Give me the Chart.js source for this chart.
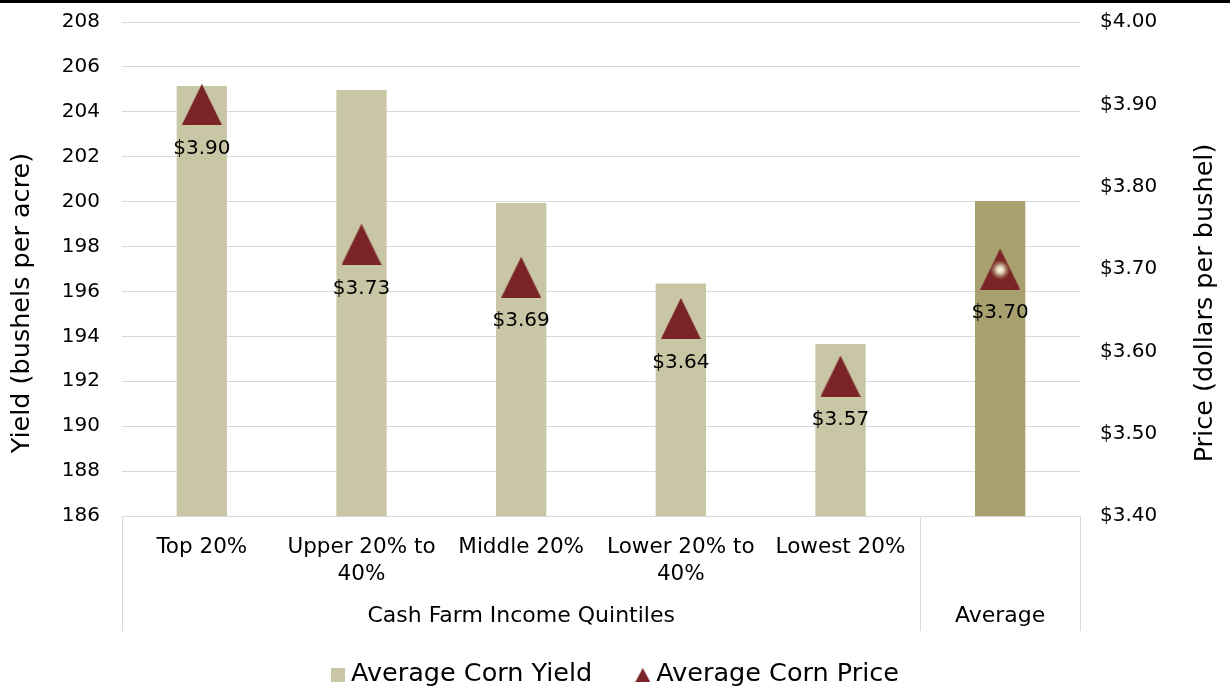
<!DOCTYPE html>
<html>
<head>
<meta charset="utf-8">
<script src="https://cdn.jsdelivr.net/npm/chart.js@4/dist/chart.umd.min.js"></script>
<style>
  html, body { margin: 0; padding: 0; background: #fff; }
  #wrap { position: relative; width: 1230px; height: 687px; }
</style>
</head>
<body>
<div id="wrap"><canvas id="myChart"></canvas></div>
<script>
// data
const categories = [['Top 20%'], ['Upper 20% to', '40%'], ['Middle 20%'], ['Lower 20% to', '40%'], ['Lowest 20%'], ['Average']];
const groups = ['Cash Farm Income Quintiles', 'Average'];
const groupSpans = [5, 1];
const cornYield = [205.15, 204.97, 199.94, 196.35, 193.66, 200.03];
const cornPrice = [3.90, 3.73, 3.69, 3.64, 3.57, 3.70];
const yieldTicks = [186, 208, 2];
const priceTicks = [3.40, 4.00, 0.10];

(() => {
  'use strict';
  const FONT = "'DejaVu Sans', 'Liberation Sans', Arial, sans-serif";
  const barLight = '#c9c6a6';
  const barDark = '#a8a06e';
  const red = '#7b2427';
  const gridCol = '#d9d9d9';

  // triangle images used as point styles
  const makeTriangle = (w, h, glow) => {
    const c = document.createElement('canvas');
    c.width = w; c.height = h;
    const g = c.getContext('2d');
    g.fillStyle = red;
    g.beginPath();
    g.moveTo(w / 2, 0);
    g.lineTo(w, h);
    g.lineTo(0, h);
    g.closePath();
    g.fill();
    if (glow) {
      const cx = w / 2, cy = h * 0.52;
      const rg = g.createRadialGradient(cx, cy, 0, cx, cy, 10);
      rg.addColorStop(0, 'rgba(255,255,250,1)');
      rg.addColorStop(0.35, 'rgba(235,230,200,0.9)');
      rg.addColorStop(1, 'rgba(170,150,110,0)');
      g.fillStyle = rg;
      g.beginPath();
      g.arc(cx, cy, 10, 0, Math.PI * 2);
      g.fill();
    }
    return c;
  };
  const tri = makeTriangle(40, 41, false);
  const triGlow = makeTriangle(40, 41, true);
  const triSmall = makeTriangle(15, 14, false);

  const isGroupName = (i) => groups.includes(categories[i][0]);

  const extras = {
    id: 'extras',
    beforeDraw(chart) {
      const c = chart.ctx;
      c.save();
      c.fillStyle = '#000';
      c.fillRect(0, 0, chart.width, 3);
      c.restore();
    },
    afterDraw(chart) {
      const c = chart.ctx;
      const area = chart.chartArea;
      const x = chart.scales.x;
      c.save();

      // price labels under triangles
      const meta = chart.getDatasetMeta(1);
      c.fillStyle = '#000';
      c.font = '20px ' + FONT;
      c.textAlign = 'center';
      c.textBaseline = 'middle';
      meta.data.forEach((pt, i) => {
        c.fillText('$' + cornPrice[i].toFixed(2), pt.x, pt.y + 44);
      });

      // group separators and labels
      c.strokeStyle = gridCol;
      c.lineWidth = 1;
      let start = 0;
      const edges = [area.left];
      groupSpans.forEach(n => {
        start += n;
        edges.push(start === categories.length ? area.right : x.getPixelForValue(start - 0.5));
      });
      edges.forEach(px => {
        const xx = Math.round(px) + 0.5;
        c.beginPath();
        c.moveTo(xx, area.bottom);
        c.lineTo(xx, 631);
        c.stroke();
      });
      c.font = '22px ' + FONT;
      groups.forEach((g, i) => {
        c.fillText(g, (edges[i] + edges[i + 1]) / 2, 616);
      });

      // axis titles
      c.font = '25.5px ' + FONT;
      c.save();
      c.translate(22, 303);
      c.rotate(-Math.PI / 2);
      c.fillText('Yield (bushels per acre)', 0, 0);
      c.restore();
      c.save();
      c.translate(1205, 303);
      c.rotate(-Math.PI / 2);
      c.fillText('Price (dollars per bushel)', 0, 0);
      c.restore();

      // legend
      c.font = '25.5px ' + FONT;
      c.textAlign = 'left';
      const names = chart.data.datasets.map(d => d.label);
      const markW = [14, 15];
      const gapIn = 6, gapOut = 43;
      const widths = names.map((n, i) => markW[i] + gapIn + c.measureText(n).width);
      const total = widths[0] + widths[1] + gapOut;
      let lx = chart.width / 2 - total / 2;
      const ly = 674;
      c.fillStyle = barLight;
      c.fillRect(lx, ly - 6, 14, 14);
      c.fillStyle = '#000';
      c.fillText(names[0], lx + markW[0] + gapIn, ly);
      lx += widths[0] + gapOut;
      c.drawImage(triSmall, lx, ly - 6);
      c.fillText(names[1], lx + markW[1] + gapIn, ly);
      c.restore();
    }
  };

  const ctx = document.getElementById('myChart');
  // eslint-disable-next-line no-unused-vars
  const myChart = new Chart(ctx, {
    data: {
      labels: categories,
      datasets: [{
        type: 'bar',
        label: 'Average Corn Yield',
        data: cornYield,
        yAxisID: 'y',
        order: 1,
        backgroundColor: cornYield.map((v, i) => i === cornYield.length - 1 ? barDark : barLight),
        categoryPercentage: 1,
        barPercentage: 0.315
      }, {
        type: 'line',
        label: 'Average Corn Price',
        data: cornPrice,
        yAxisID: 'y1',
        order: 0,
        showLine: false,
        pointStyle: cornPrice.map((v, i) => i === cornPrice.length - 1 ? triGlow : tri),
        pointRadius: 20,
        pointBackgroundColor: red,
        borderColor: red
      }]
    },
    options: {
      responsive: true,
      maintainAspectRatio: false,
      animation: false,
      events: [],
      layout: { padding: { left: 0, right: 0, top: 22, bottom: 0 } },
      plugins: {
        legend: { display: false },
        tooltip: { enabled: false }
      },
      scales: {
        x: {
          grid: { display: false },
          border: { display: true, color: gridCol, width: 1 },
          ticks: {
            color: '#000',
            font: { family: FONT, size: 21.5, lineHeight: 1.25 },
            padding: 10,
            maxRotation: 0,
            autoSkip: false,
            callback: (v, i) => isGroupName(i) ? '' : categories[i]
          },
          afterFit: (s) => { s.height = 171; s.paddingLeft = 0; s.paddingRight = 0; }
        },
        y: {
          position: 'left',
          min: yieldTicks[0],
          max: yieldTicks[1],
          grid: { color: gridCol, lineWidth: 1, drawTicks: false },
          border: { display: false },
          ticks: {
            stepSize: yieldTicks[2],
            color: '#000',
            padding: 22,
            font: { family: FONT, size: 20 }
          },
          afterFit: (s) => { s.width = 122; s.paddingTop = 0; s.paddingBottom = 0; }
        },
        y1: {
          position: 'right',
          min: priceTicks[0],
          max: priceTicks[1],
          grid: { display: false, drawTicks: false },
          border: { display: false },
          ticks: {
            stepSize: priceTicks[2],
            color: '#000',
            padding: 20,
            font: { family: FONT, size: 20 },
            callback: (v) => '$' + Number(v).toFixed(2)
          },
          afterFit: (s) => { s.width = 150; s.paddingTop = 0; s.paddingBottom = 0; }
        }
      }
    },
    plugins: [extras]
  });
})();
</script>
</body>
</html>
